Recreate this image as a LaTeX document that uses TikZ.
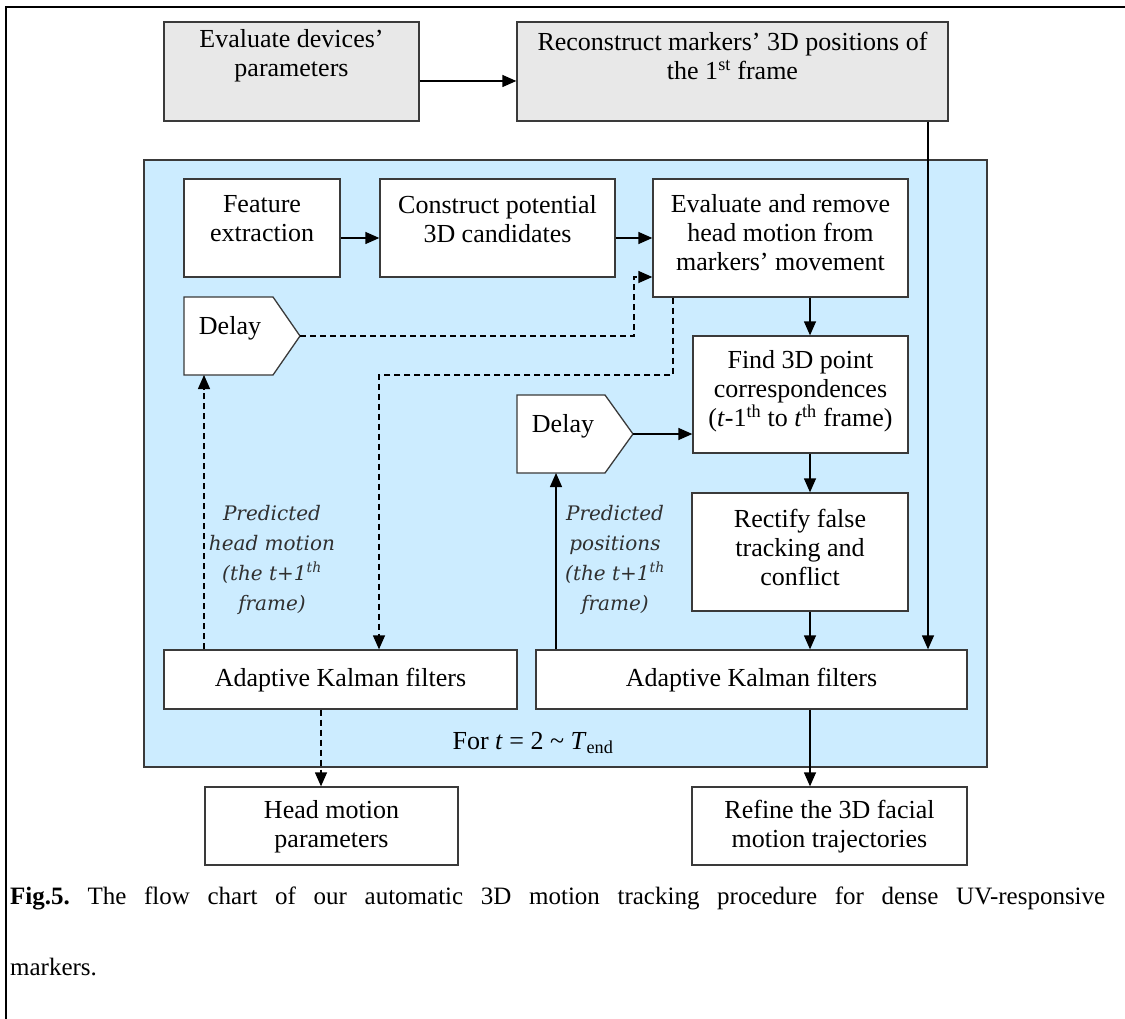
\documentclass[tikz,border=0pt]{standalone}
\usepackage{fontspec}
\setmainfont{Liberation Serif}
\newfontfamily\labfont{DejaVu Serif}
\usetikzlibrary{arrows.meta,calc}
\definecolor{loopblue}{HTML}{CCECFF}
\definecolor{boxgray}{HTML}{E8E8E8}
\definecolor{edgec}{HTML}{3A3A3A}
\definecolor{labgray}{HTML}{303030}
\begin{document}
\begin{tikzpicture}[x=1pt,y=-1pt,
  box/.style={draw=edgec, line width=1.3pt, fill=white, rectangle, inner sep=0pt},
  gbox/.style={box, fill=boxgray},
  txt/.style={align=center, font=\fontsize{26}{29}\selectfont, inner sep=0pt},
  lab/.style={align=center, font=\labfont\itshape\fontsize{20}{30}\selectfont, text=labgray, inner sep=0pt},
  ln/.style={line width=1.3pt, draw=black},
  arr/.style={ln, -{Triangle[length=14pt,width=12pt]}},
  dsh/.style={dash pattern=on 6pt off 4pt}
]
\useasboundingbox (0,0) rectangle (1125,1019);
% page frame
\draw[line width=2.4pt] (6,1019) -- (6,7) -- (1125,7);

% top boxes
\node[gbox, minimum width=255pt, minimum height=99pt] (evdev) at (291.5,71.5) {};
\node[txt] (evdevt) at (291.5,56) {Evaluate devices’\\parameters};
\node[gbox, minimum width=431pt, minimum height=99pt] (recon) at (732.5,71.5) {};
\node[txt] (recont) at (732.5,56) {Reconstruct markers’ 3D positions of\\the 1\textsuperscript{st} frame};

% loop region
\node[box, fill=loopblue, minimum width=843pt, minimum height=607pt] (loop) at (565.5,463.5) {};

% inner boxes
\node[box, minimum width=156pt, minimum height=98pt] (feat) at (262,228) {};
\node[txt] (featt) at (262,219) {Feature\\extraction};
\node[box, minimum width=235pt, minimum height=98pt] (cons) at (497.5,228) {};
\node[txt] (const) at (497.5,219) {Construct potential\\3D candidates};
\node[box, minimum width=255pt, minimum height=118pt] (evrem) at (780.5,238) {};
\node[txt] (evremt) at (780.5,233) {Evaluate and remove\\head motion from\\markers’ movement};
\node[box, minimum width=215pt, minimum height=117pt] (find) at (800.5,394.5) {};
\node[txt] (findt) at (800.5,391) {Find 3D point\\correspondences\\(\textit{t}-1\textsuperscript{th} to \textit{t}\textsuperscript{th} frame)};
\node[box, minimum width=216pt, minimum height=118pt] (rect) at (800,552) {};
\node[txt] (rectt) at (800,547) {Rectify false\\tracking and\\conflict};
\node[box, minimum width=353pt, minimum height=59pt] (kalL) at (340.5,679.5) {};
\node[txt] (kalLt) at (340.5,680) {Adaptive Kalman filters};
\node[box, minimum width=431pt, minimum height=59pt] (kalR) at (751.5,679.5) {};
\node[txt] (kalRt) at (751.5,680) {Adaptive Kalman filters};

% delay shapes
\draw[ln, draw=edgec, fill=white] (184,297) -- (273,297) -- (300,336) -- (273,375) -- (184,375) -- cycle;
\node[txt] (d1t) at (230,328) {Delay};
\draw[ln, draw=edgec, fill=white] (517,395) -- (605,395) -- (633,434) -- (605,473) -- (517,473) -- cycle;
\node[txt] (d2t) at (563,426) {Delay};
\coordinate (d1tip) at (300,336);
\coordinate (d1bot) at (204,375);
\coordinate (d2tip) at (633,434);
\coordinate (d2bot) at (556,473);

% labels
\node[lab] (lab1) at (272,560) {Predicted\\head motion\\(the \textit{t}+1\textsuperscript{th}\\frame)};
\node[lab] (lab2) at (615,560) {Predicted\\positions\\(the \textit{t}+1\textsuperscript{th}\\frame)};
\node[txt] (fort) at (533,743) {For \textit{t} = 2 \textasciitilde{} \textit{T}\textsubscript{end}};

% bottom boxes
\node[box, minimum width=253pt, minimum height=78pt] (head) at (331.5,826) {};
\node[txt] (headt) at (331.5,827) {Head motion\\parameters};
\node[box, minimum width=275pt, minimum height=78pt] (refine) at (829.5,826) {};
\node[txt] (refinet) at (829.5,827) {Refine the 3D facial\\motion trajectories};

% helper coordinates
\coordinate (r0) at (0,81);
\coordinate (r1) at (0,238);
\coordinate (col) at (810,0);
\coordinate (col2) at (928,0);
\coordinate (col3) at (321,0);
\coordinate (dA) at (634,277);
\coordinate (dB) at (673,375);
\coordinate (dC) at (379,375);

% connectors
\draw[arr] (evdev.east |- r0) -- (recon.west |- r0);
\draw[arr] (recon.south -| col2) -- (kalR.north -| col2);
\draw[arr] (feat.east |- r1) -- (cons.west |- r1);
\draw[arr] (cons.east |- r1) -- (evrem.west |- r1);
\draw[arr, dsh] (d1tip) -| (dA) -- (evrem.west |- dA);
\draw[arr, dsh] (evrem.south -| dB) -- (dB) -| (kalL.north -| dC);
\draw[arr] (evrem.south -| col) -- (find.north -| col);
\draw[arr] (d2tip) -- (find.west |- d2tip);
\draw[arr] (find.south -| col) -- (rect.north -| col);
\draw[arr] (rect.south -| col) -- (kalR.north -| col);
\draw[arr, dsh] (kalL.north -| d1bot) -- (d1bot);
\draw[arr] (kalR.north -| d2bot) -- (d2bot);
\draw[arr, dsh] (kalL.south -| col3) -- (head.north -| col3);
\draw[arr] (kalR.south -| col) -- (refine.north -| col);

% caption
\node[anchor=base west, inner sep=0pt, font=\fontsize{25}{25}\selectfont] (cap1) at (10,904)
  {\frenchspacing\makebox[1095pt][s]{\textbf{Fig.5.} The flow chart of our automatic 3D motion tracking procedure for dense UV-responsive}};
\node[anchor=base west, inner sep=0pt, font=\fontsize{25}{25}\selectfont] (cap2) at (10,975) {markers.};
\end{tikzpicture}
\end{document}
